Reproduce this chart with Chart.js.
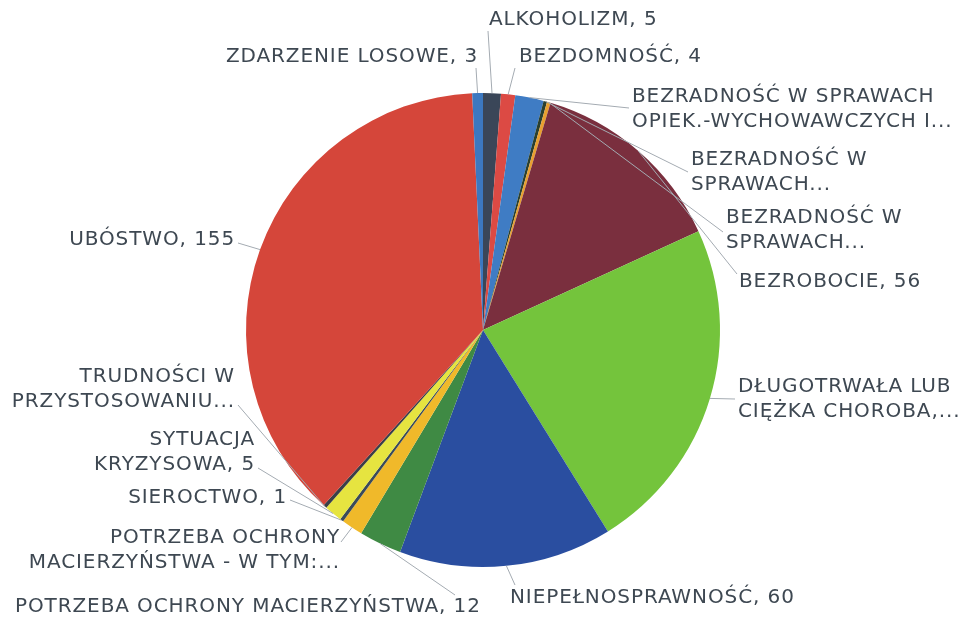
<!DOCTYPE html>
<html>
<head>
<meta charset="utf-8">
<script src="https://cdn.jsdelivr.net/npm/chart.js@4"></script>
<style>
  html, body { margin: 0; padding: 0; background: #fff; }
  #wrap { width: 960px; height: 623px; position: relative; }
</style>
</head>
<body>
<div id="wrap"><canvas id="pie"></canvas></div>
<script>
// --- data ---
var categories = [
  'Alkoholizm', 'Bezdomność', 'Bezradność w sprawach opiek.-wychowawczych i prowadzenia gosp. domowego',
  'Bezradność w sprawach (2)', 'Bezradność w sprawach (3)', 'Bezrobocie',
  'Długotrwała lub ciężka choroba', 'Niepełnosprawność', 'Potrzeba ochrony macierzyństwa',
  'Potrzeba ochrony macierzyństwa - w tym: wielodzietność', 'Sieroctwo', 'Sytuacja kryzysowa',
  'Trudności w przystosowaniu', 'Ubóstwo', 'Zdarzenie losowe'
];
var values = [5, 4, 8, 1, 1, 56, 95, 60, 12, 6, 1, 5, 1, 155, 3];

// label text as printed on the chart (some truncated like in the original)
var labelLines = [
  ['ALKOHOLIZM, 5'],
  ['BEZDOMNOŚĆ, 4'],
  ['BEZRADNOŚĆ W SPRAWACH', 'OPIEK.-WYCHOWAWCZYCH I...'],
  ['BEZRADNOŚĆ W', 'SPRAWACH...'],
  ['BEZRADNOŚĆ W', 'SPRAWACH...'],
  ['BEZROBOCIE, 56'],
  ['DŁUGOTRWAŁA LUB', 'CIĘŻKA CHOROBA,...'],
  ['NIEPEŁNOSPRAWNOŚĆ, 60'],
  ['POTRZEBA OCHRONY MACIERZYŃSTWA, 12'],
  ['POTRZEBA OCHRONY', 'MACIERZYŃSTWA - W TYM:...'],
  ['SIEROCTWO, 1'],
  ['SYTUACJA', 'KRYZYSOWA, 5'],
  ['TRUDNOŚCI W', 'PRZYSTOSOWANIU...'],
  ['UBÓSTWO, 155'],
  ['ZDARZENIE LOSOWE, 3']
];

var sliceColors = [
  '#3a4658', '#dc4a44', '#3f7cc4', '#2a4030', '#e8a030', '#7a2f3e',
  '#74c43c', '#2a4ea0', '#3f8a44', '#f0b92a', '#3a4a5a', '#e6e440',
  '#3a3f48', '#d5463a', '#3c78c0'
];

// --- label layout: text anchor (x, y of first line), alignment, leader line end ---
var labelLayout = [
  { x: 489, y: 20,  align: 'left',  lx: 488, ly: 31 },
  { x: 519, y: 57,  align: 'left',  lx: 515, ly: 68 },
  { x: 632, y: 97,  align: 'left',  lx: 629, ly: 108 },
  { x: 691, y: 160, align: 'left',  lx: 688, ly: 172 },
  { x: 726, y: 218, align: 'left',  lx: 723, ly: 232 },
  { x: 739, y: 282, align: 'left',  lx: 737, ly: 274 },
  { x: 738, y: 387, align: 'left',  lx: 735, ly: 399 },
  { x: 510, y: 598, align: 'left',  lx: 515, ly: 585 },
  { x: 15,  y: 607, align: 'left',  lx: 455, ly: 595 },
  { x: 340, y: 538, align: 'right', lx: 341, ly: 542 },
  { x: 287, y: 498, align: 'right', lx: 290, ly: 500 },
  { x: 255, y: 440, align: 'right', lx: 258, ly: 468 },
  { x: 235, y: 377, align: 'right', lx: 238, ly: 405 },
  { x: 235, y: 240, align: 'right', lx: 238, ly: 243 },
  { x: 478, y: 57,  align: 'right', lx: 476, ly: 68 }
];

// --- outside labels with leader lines ---
var outsideLabels = {
  id: 'outsideLabels',
  afterDatasetsDraw: function(chart) {
    var ctx = chart.ctx;
    var arcs = chart.getDatasetMeta(0).data;
    ctx.save();
    // leader lines
    ctx.strokeStyle = '#a4abb2';
    ctx.lineWidth = 1;
    arcs.forEach(function(arc, i) {
      var p = labelLayout[i];
      var mid = (arc.startAngle + arc.endAngle) / 2;
      var ex = arc.x + Math.cos(mid) * arc.outerRadius;
      var ey = arc.y + Math.sin(mid) * arc.outerRadius;
      ctx.beginPath();
      ctx.moveTo(ex, ey);
      ctx.lineTo(p.lx, p.ly);
      ctx.stroke();
    });
    // text
    ctx.fillStyle = '#3e4852';
    ctx.font = '20px "DejaVu Sans"';
    ctx.letterSpacing = '0.9px';
    ctx.textBaseline = 'middle';
    labelLines.forEach(function(lines, i) {
      var p = labelLayout[i];
      ctx.textAlign = p.align;
      lines.forEach(function(t, k) {
        ctx.fillText(t, p.x, p.y + k * 25);
      });
    });
    ctx.restore();
  }
};

var canvas = document.getElementById('pie');
canvas.width = 960;
canvas.height = 623;

new Chart(canvas.getContext('2d'), {
  type: 'pie',
  data: {
    labels: categories,
    datasets: [{
      data: values,
      backgroundColor: sliceColors,
      borderWidth: 0,
      hoverOffset: 0
    }]
  },
  options: {
    responsive: false,
    animation: false,
    layout: { padding: { left: 246, right: 240, top: 92, bottom: 55 } },
    plugins: {
      legend: { display: false },
      tooltip: { enabled: false }
    }
  },
  plugins: [outsideLabels]
});
</script>
</body>
</html>
